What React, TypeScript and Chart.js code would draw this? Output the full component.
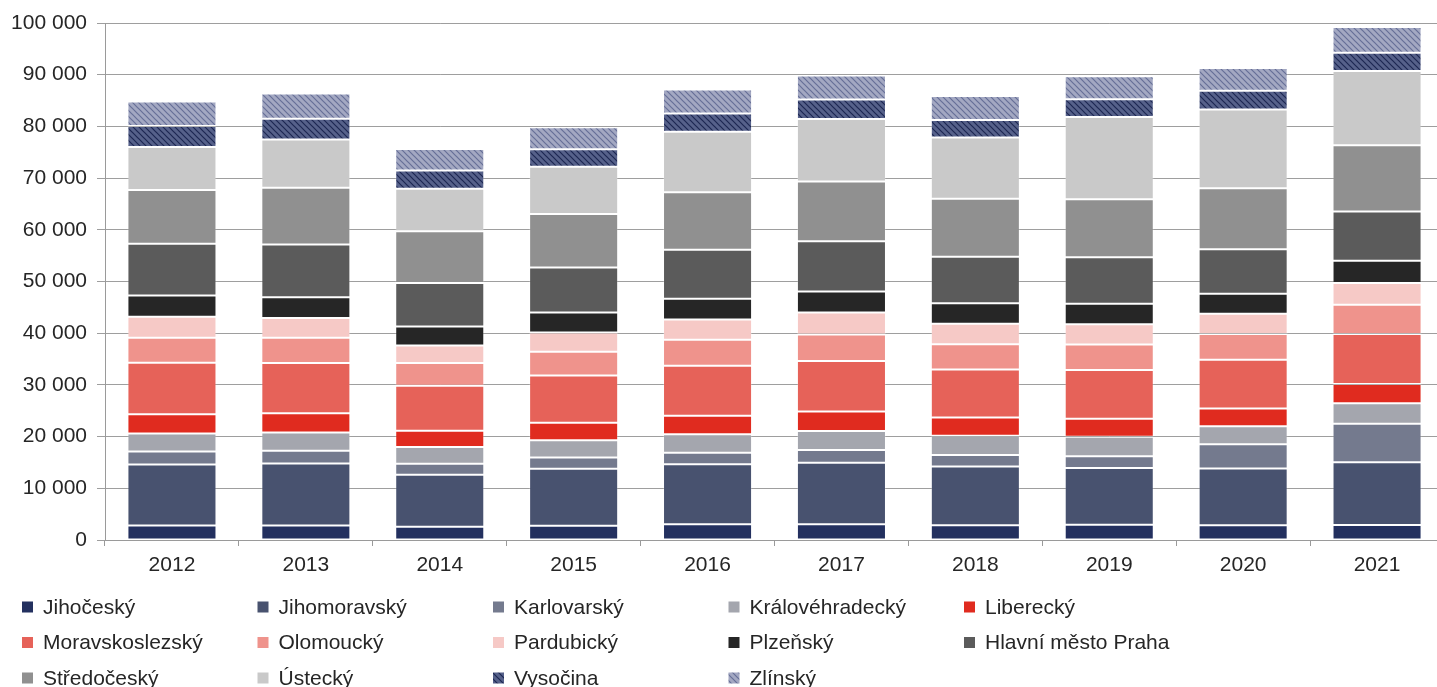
import React, { useEffect, useRef } from 'react';
import { Chart, registerables } from 'chart.js';

Chart.register(...registerables);

const years = ['2012', '2013', '2014', '2015', '2016', '2017', '2018', '2019', '2020', '2021'];

const jihocesky = [2800, 2800, 2550, 2750, 3050, 3050, 2850, 2950, 2850, 2900];
const jihomoravsky = [11800, 12000, 10050, 11050, 11600, 11900, 11350, 11000, 11000, 12150];
const karlovarsky = [2500, 2450, 2150, 2150, 2250, 2450, 2250, 2250, 4650, 7450];
const kralovehradecky = [3500, 3550, 3250, 3350, 3550, 3700, 3700, 3750, 3500, 3950];
const liberecky = [3700, 3700, 3150, 3400, 3600, 3750, 3550, 3500, 3450, 3700];
const moravskoslezsky = [10000, 9750, 8700, 9100, 9650, 9750, 9300, 9450, 9400, 9700];
const olomoucky = [4800, 4850, 4400, 4600, 5050, 5150, 4850, 4900, 5000, 5650];
const pardubicky = [4100, 3850, 3350, 3750, 3900, 4250, 4000, 3950, 3900, 4200];
const plzensky = [4100, 4000, 3700, 3850, 4000, 4050, 3950, 3950, 3900, 4300];
const praha = [10000, 10200, 8400, 8700, 9500, 9750, 9000, 9000, 8600, 9550];
const stredocesky = [10400, 11000, 10000, 10350, 11100, 11550, 11200, 11200, 11800, 12800];
const ustecky = [8300, 9300, 8250, 9150, 11700, 12100, 11850, 15900, 15200, 14350];
const vysocina = [4100, 4050, 3500, 3400, 3550, 3750, 3400, 3450, 3650, 3550];
const zlinsky = [4700, 4850, 4200, 4250, 4650, 4650, 4650, 4450, 4400, 5000];

const yMin = 0;
const yMax = 100000;
const yStep = 10000;

const FONT = '"Liberation Sans", Arial, sans-serif';
const TEXT = '#262626';

function makePattern(base: string, stripe: string): CanvasPattern | string {
  const size = 6;
  const c = document.createElement('canvas');
  c.width = size;
  c.height = size;
  const g = c.getContext('2d');
  if (!g) return base;
  g.fillStyle = base;
  g.fillRect(0, 0, size, size);
  g.strokeStyle = stripe;
  g.lineWidth = 1.2;
  g.beginPath();
  for (const off of [-size, 0, size]) {
    g.moveTo(off - 1, -1);
    g.lineTo(off + size + 1, size + 1);
  }
  g.stroke();
  const p = g.createPattern(c, 'repeat');
  return p || base;
}

const fmt = (v: number) => String(v).replace(/\B(?=(\d{3})+(?!\d))/g, ' ');

const gridLegend = {
  id: 'gridLegend',
  afterDraw(chart: any) {
    const ctx = chart.ctx as CanvasRenderingContext2D;
    ctx.save();
    chart.data.datasets.forEach((ds: any, i: number) => {
      const col = i % 5;
      const row = Math.floor(i / 5);
      const x = 22 + col * 235.5;
      const y = 607 + row * 35.5;
      ctx.fillStyle = ds.backgroundColor;
      ctx.fillRect(x, y - 5.5, 11, 11);
      ctx.fillStyle = TEXT;
      ctx.font = `21px ${FONT}`;
      ctx.textBaseline = 'middle';
      ctx.textAlign = 'left';
      ctx.fillText(ds.label, x + 21, y + 1);
    });
    ctx.restore();
  },
};

export default function App() {
  const ref = useRef<HTMLCanvasElement | null>(null);

  useEffect(() => {
    if (!ref.current) return;
    const vys = makePattern('#56618a', '#1d2752');
    const zl = makePattern('#a3a8c2', '#666f97');
    const series: [string, number[], any][] = [
      ['Jihočeský', jihocesky, '#23305f'],
      ['Jihomoravský', jihomoravsky, '#48526f'],
      ['Karlovarský', karlovarsky, '#747a8e'],
      ['Královéhradecký', kralovehradecky, '#a4a6ae'],
      ['Liberecký', liberecky, '#e02b1f'],
      ['Moravskoslezský', moravskoslezsky, '#e66259'],
      ['Olomoucký', olomoucky, '#ef938c'],
      ['Pardubický', pardubicky, '#f6c9c6'],
      ['Plzeňský', plzensky, '#262626'],
      ['Hlavní město Praha', praha, '#5b5b5b'],
      ['Středočeský', stredocesky, '#909090'],
      ['Ústecký', ustecky, '#c9c9c9'],
      ['Vysočina', vysocina, vys],
      ['Zlínský', zlinsky, zl],
    ];
    const chart = new Chart(ref.current, {
      type: 'bar',
      data: {
        labels: years,
        datasets: series.map(([label, data, color]) => ({
          label,
          data,
          backgroundColor: color,
          borderColor: 'rgba(255,255,255,0.2)',
          borderWidth: 1,
          borderSkipped: false,
          barPercentage: 1,
          categoryPercentage: 0.665,
        })),
      },
      options: {
        responsive: false,
        animation: false,
        layout: { padding: { top: 23, right: 6, left: 0, bottom: 0 } },
        plugins: {
          legend: { display: false },
          tooltip: { enabled: false },
        },
        scales: {
          x: {
            stacked: true,
            grid: {
              offset: true,
              drawOnChartArea: false,
              drawTicks: true,
              tickLength: 6,
              color: '#9a9a9a',
            },
            border: { display: true, color: '#9a9a9a', width: 1 },
            ticks: { font: { size: 21, family: FONT }, color: TEXT, padding: 7 },
            afterFit: (scale: any) => {
              scale.height = 147;
            },
          },
          y: {
            stacked: true,
            min: yMin,
            max: yMax,
            z: 1,
            grid: {
              color: 'rgba(0,0,0,0.38)',
              lineWidth: 1,
              tickLength: 8,
            },
            border: { display: true, color: '#9a9a9a', width: 1 },
            ticks: {
              stepSize: yStep,
              font: { size: 21, family: FONT },
              color: TEXT,
              padding: 10,
              callback: (v: any) => fmt(Number(v)),
            },
            afterFit: (scale: any) => {
              scale.width = 105;
            },
          },
        },
      },
      plugins: [gridLegend],
    } as any);
    return () => chart.destroy();
  }, []);

  return (
    <div
      style={{
        position: 'absolute',
        left: 0,
        top: 0,
        width: 1437,
        height: 687,
        overflow: 'hidden',
        background: '#fff',
      }}
    >
      <canvas ref={ref} width={1450} height={687} style={{ display: 'block' }} />
    </div>
  );
}
